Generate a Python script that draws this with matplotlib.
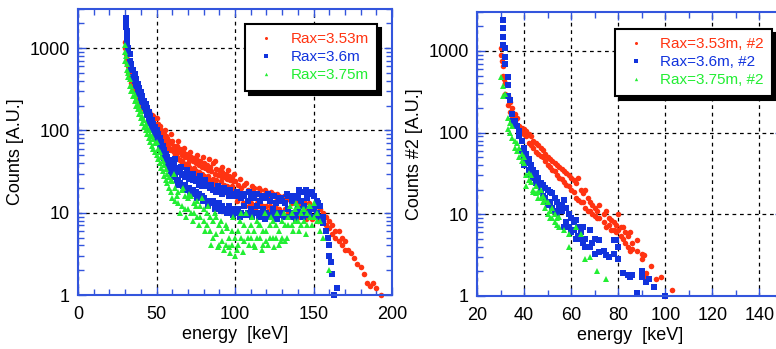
import numpy as np
import matplotlib
matplotlib.use("Agg")
import matplotlib.pyplot as plt
from matplotlib.ticker import FixedLocator, FixedFormatter, MultipleLocator, LogLocator, NullFormatter

plt.rcParams['font.family'] = ['Liberation Sans', 'DejaVu Sans']

# ---------------- Left panel data ----------------
red1_x = [30, 30, 30.5, 31, 31.5, 32, 32, 33, 33, 34, 34, 35, 35, 36, 36, 37, 37, 38, 38, 39, 39,
          40, 40, 41, 41, 42, 42, 43, 43, 44, 44, 45, 45, 46, 46, 47, 47, 48, 48, 49, 49,
          50, 50, 51, 51, 52, 52, 53, 53, 54, 54, 55, 55, 56, 56, 57, 57, 58, 58, 59, 59,
          60, 60, 61, 61, 62, 62, 63, 63, 64, 64, 65, 65, 66, 66, 67, 67, 68, 68, 69, 69,
          70, 70, 71, 71, 72, 72, 73, 73, 74, 74, 75, 75, 76, 76, 77, 77, 78, 78, 79, 79,
          80, 80, 81, 81, 82, 82, 83, 83, 84, 84, 85, 85, 86, 86, 87, 87, 88, 88, 89, 89,
          90, 90, 91, 91, 92, 92, 93, 93, 94, 94, 95, 95, 96, 96, 97, 97, 98, 98, 99, 99,
          100, 100, 102, 102, 104, 104, 106, 106, 108, 108, 110, 110, 112, 112, 114, 114,
          116, 116, 118, 118, 120, 120, 122, 122, 124, 124, 126, 126, 128, 128, 130, 130,
          132, 132, 134, 134, 136, 136, 138, 138, 140, 140, 142, 142, 144, 144, 146, 146,
          148, 148, 150, 150, 152, 152, 154, 154, 156, 156, 158, 158, 160, 160, 162, 162,
          164, 164, 166, 166, 168, 168, 170, 170, 172, 174, 176, 178, 180, 182, 184, 186,
          188, 190, 193,
          55.5, 57.5, 59.5, 61.5, 63.5, 65.5, 67.5, 69.5, 71.5, 73.5, 75.5, 77.5, 79.5, 81.5,
          83.5, 85.5, 87.5, 89.5, 91.5, 93.5, 95.5, 97.5, 99.5, 101, 103, 105, 107, 109, 111,
          113, 115, 117, 119, 121, 123, 125, 127, 129, 131, 133, 135, 137, 139, 141, 143, 145,
          147, 149, 151, 153]
red1_y = [1200, 1000, 850, 750, 650, 600, 520, 480, 430, 420, 380, 380, 330, 330, 300, 300, 270, 280, 250, 260, 230,
          250, 220, 230, 200, 210, 185, 200, 175, 185, 160, 175, 150, 160, 140, 155, 135, 150, 125, 140, 120,
          140, 115, 120, 100, 115, 95, 100, 85, 95, 80, 90, 75, 85, 70, 80, 65, 75, 62, 70, 58,
          75, 60, 65, 55, 60, 50, 65, 48, 55, 45, 60, 44, 50, 42, 55, 40, 48, 38, 52, 36,
          50, 40, 45, 36, 48, 34, 42, 33, 46, 35, 40, 32, 44, 30, 38, 31, 42, 29, 36, 30,
          40, 28, 35, 27, 38, 26, 33, 28, 36, 25, 32, 24, 40, 26, 30, 23, 34, 25, 29, 22,
          33, 21, 28, 24, 31, 20, 27, 22, 30, 19, 26, 21, 28, 20, 25, 18, 27, 21, 24, 19,
          24, 16, 22, 15, 20, 15, 22, 13, 19, 14, 18, 13, 20, 12, 17, 13,
          19, 12, 16, 12, 18, 12, 15, 12, 17, 11, 14, 11.5, 16, 11, 15, 10,
          14, 11, 14.5, 10, 13, 9.5, 14, 10, 13, 9.5, 12, 10, 14, 9, 11, 9.5,
          12, 9, 11, 9, 12, 9, 11, 9, 10, 8, 9, 7, 8, 6.5, 7, 5.5,
          6, 5, 6, 4.5, 5, 4, 4.5, 3.5, 3.5, 3.2, 2.8, 2.4, 2.2, 1.8, 1.4, 1.3,
          1.4, 1.2, 1.0,
          100, 58, 90, 48, 75, 38, 62, 32, 55, 30, 50, 26, 48, 24,
          45, 21, 42, 20, 36, 18, 33, 17, 30, 14, 26, 13, 23, 12, 21,
          11, 20, 10.5, 19, 10.5, 18, 10, 17, 10, 16, 9.5, 15, 9, 15, 9, 14, 8.5,
          13, 8.5, 12, 8]

blue1_x = [30.5, 30.5, 30.5, 31, 31, 31.5, 31.5, 32, 32, 33, 33, 34, 34, 35, 35, 36, 36, 37, 37,
           38, 38, 39, 39, 40, 40, 41, 41, 42, 42, 43, 43, 44, 44, 45, 45, 46, 46, 47, 47,
           48, 48, 49, 49, 50, 50, 51, 51, 52, 52, 53, 53, 54, 54, 55, 55, 56, 56, 57, 57,
           58, 58, 59, 59, 60, 60, 61, 61, 62, 62, 63, 63, 64, 64, 65, 65, 66, 66, 67, 67,
           68, 68, 69, 69, 70, 70, 71, 71, 72, 72, 73, 73, 74, 74, 75, 75, 76, 76, 77, 77,
           78, 78, 79, 79, 80, 80, 82, 82, 84, 84, 86, 86, 88, 88, 90, 90, 92, 92, 94, 94,
           96, 96, 98, 98, 100, 100, 102, 102, 104, 104, 106, 106, 108, 108, 110, 110,
           112, 112, 114, 114, 116, 116, 118, 118, 120, 120, 122, 122, 124, 124, 126, 126,
           128, 128, 130, 130, 132, 132, 134, 134, 136, 136, 138, 138, 140, 140, 142, 142,
           144, 144, 146, 146, 148, 148, 150, 150, 152, 152, 154, 154, 156, 156, 158, 159,
           160, 160, 161, 162, 163, 165,
           61.5, 63.5, 65.5, 67.5, 69.5, 71.5, 73.5, 75.5, 77.5, 79.5, 81, 83, 85, 87, 89, 91,
           93, 95, 97, 99, 101, 103, 105, 107, 109, 111, 113, 115, 117, 119, 121, 123, 125,
           127, 129, 131, 133, 135, 137, 139, 141, 143, 145, 147, 149, 151, 153]
blue1_y = [2300, 2000, 1800, 1600, 1400, 1200, 1100, 1000, 900, 850, 700, 650, 550, 550, 450, 480, 400, 420, 350,
           370, 310, 330, 280, 290, 240, 260, 220, 230, 195, 210, 175, 190, 155, 170, 135, 150, 125, 135, 110,
           120, 100, 110, 90, 100, 80, 90, 72, 80, 65, 72, 58, 65, 52, 58, 46, 52, 42, 48, 38,
           44, 35, 40, 32, 42, 30, 38, 28, 35, 27, 33, 25, 31, 24, 32, 23, 29, 22, 30, 21,
           27, 22, 29, 20, 28, 19, 26, 20, 27, 18, 25, 19, 26, 17, 24, 18, 25, 16, 22, 17,
           24, 15, 21, 16, 23, 15, 21, 14, 20, 13, 19, 14, 18, 12, 19, 13, 17, 12, 18, 11,
           16, 12, 17, 11, 16, 10, 17, 11, 15, 10, 16, 12, 14, 10, 16, 11,
           15, 10, 17, 12, 14, 10, 16, 11, 15, 10, 14, 9.5, 16, 11, 13, 10,
           15, 9.5, 14, 10, 13, 9, 16, 11, 14, 10, 15, 9.5, 16, 11, 14, 10,
           18, 12, 15, 10, 17, 11, 16, 11, 14, 10, 12, 9, 9, 7.5, 6, 5,
           4, 3, 2.5, 1.8, 1.0, 1.2,
           45, 22, 36, 19, 33, 17, 30, 15, 28, 14, 25, 12, 22, 11, 21, 10.5,
           20, 10, 19, 9.5, 18, 9, 17, 9.5, 18, 9, 17, 9, 16, 8.5, 17, 9, 16,
           8.5, 15, 9, 17, 9, 16, 8.5, 19, 9, 19, 9.5, 18, 9, 13]

green1_x = [30, 30, 30, 30.5, 31, 31, 32, 32, 33, 33, 34, 34, 35, 35, 36, 36, 37, 37, 38, 38, 39, 39,
            40, 40, 41, 41, 42, 42, 43, 43, 44, 44, 45, 45, 46, 46, 47, 47, 48, 48, 49, 49,
            50, 50, 51, 51, 52, 52, 53, 53, 54, 54, 55, 55, 56, 56, 57, 57, 58, 58, 59, 59,
            60, 60, 62, 62, 64, 64, 66, 66, 68, 68, 70, 70, 72, 72, 74, 74, 76, 76, 78, 78,
            80, 80, 82, 82, 84, 84, 86, 86, 88, 88, 90, 90, 92, 92, 94, 94, 96, 96, 98, 98,
            100, 100, 102, 102, 104, 104, 106, 106, 108, 108, 110, 110, 112, 112, 114, 114,
            116, 116, 118, 118, 120, 120, 122, 122, 124, 124, 126, 126, 128, 128, 130, 130,
            132, 132, 134, 134, 136, 136, 138, 138, 140, 140, 142, 142, 144, 144, 146, 146,
            148, 148, 150, 150, 152, 152, 154, 154, 156, 160,
            61, 63, 65, 67, 69, 71, 73, 75, 77, 79, 81, 83, 85, 87, 89, 91, 93, 95, 97, 99,
            101, 103, 105, 107, 109, 111, 113, 115, 117, 119, 121, 123, 125, 127, 129, 131,
            133, 135, 137, 139, 141, 143, 145, 147, 149]
green1_y = [1100, 900, 700, 800, 650, 550, 500, 450, 420, 350, 350, 300, 300, 260, 270, 230, 240, 200, 210, 180, 190, 160,
            175, 140, 150, 125, 135, 110, 120, 100, 110, 90, 100, 80, 90, 72, 85, 65, 78, 60, 70, 55,
            72, 50, 60, 45, 55, 40, 48, 35, 42, 32, 38, 28, 34, 25, 30, 23, 27, 20, 25, 18,
            24, 15, 20, 14, 18, 13, 19, 12, 16, 11, 15, 11, 16, 10, 13, 10, 14, 9, 12, 9,
            11, 8, 10, 7, 9, 6, 8, 5, 9, 5.5, 7, 4, 6, 4.5, 7, 4, 5, 3.8, 6, 4,
            5, 3, 6, 4, 10, 5, 7, 4.5, 6, 5, 7, 5, 6, 4, 8, 5,
            7, 5, 6, 4, 6, 4.5, 7, 5, 8, 5, 7, 5, 6, 4, 8, 5,
            7, 4.5, 9, 7, 10, 7, 11, 8, 12, 8, 10, 7, 11, 8, 10, 7,
            12, 9, 13, 9, 10, 8, 8, 6, 5, 2,
            30, 16, 10, 20, 9, 17, 8, 12, 7, 15, 6, 12, 4, 10, 3.8, 8, 3.5, 6.5, 3.2, 9,
            3.5, 8, 3.3, 10, 4, 9, 3.8, 7, 3.5, 10, 4, 9, 3.8, 10, 4.5, 10,
            5, 12, 6, 13, 6, 11, 5.5, 12, 7]

# ---------------- Right panel data ----------------
red2_x = [30, 30, 30.5, 31, 31, 31.5, 32, 32, 33, 33, 34, 34, 35, 35, 36, 36, 37, 37, 38, 38, 39, 39,
          40, 40, 41, 41, 42, 42, 43, 43, 44, 44, 45, 45, 46, 46, 47, 47, 48, 48, 49, 49,
          50, 50, 51, 51, 52, 52, 53, 53, 54, 54, 55, 55, 56, 56, 57, 57, 58, 58, 59, 59,
          60, 60, 61, 61, 62, 62, 63, 63, 64, 64, 65, 65, 66, 66, 67, 67, 68, 68, 69, 69,
          70, 70, 71, 71, 72, 72, 74, 74, 75, 75, 76, 76, 77, 77, 78, 78, 79, 79,
          80, 80, 81, 81, 82, 82, 83, 83, 84, 84, 85, 85, 86, 86, 88, 88, 90, 90, 91,
          92, 92, 94, 96, 98, 100, 103]
red2_y = [1100, 900, 750, 650, 500, 450, 400, 300, 280, 220, 240, 180, 200, 160, 170, 140, 150, 125, 120, 110, 115, 100,
          110, 95, 105, 90, 95, 75, 90, 70, 80, 65, 75, 58, 70, 55, 65, 52, 62, 50, 55, 45,
          50, 40, 48, 38, 45, 35, 42, 34, 40, 30, 38, 28, 36, 27, 34, 25, 32, 23, 30, 22,
          28, 20, 26, 19, 24, 16, 28, 15, 20, 14, 18, 14, 20, 12, 16, 11, 14, 11, 13, 10,
          12, 9.5, 11, 9, 13, 9, 10, 8, 11, 7, 9, 7.5, 8.5, 6.5, 8, 6.5, 7.5, 6,
          10, 6.5, 7, 5.5, 7, 5, 6, 4.5, 5.5, 4, 6, 3.6, 4.5, 3.8, 4.8, 3.6, 3.3, 2.8, 3.2,
          1.9, 1.7, 2.3, 1.6, 1.7, 1.0, 1.2]

blue2_x = [31, 31, 31, 31, 32, 32, 32, 33, 33, 33, 34, 35, 35, 36, 36, 37, 38, 38, 39, 39,
           40, 40, 40, 41, 41, 42, 42, 43, 43, 44, 44, 45, 45, 46, 46, 47, 47, 48, 48, 49, 49,
           50, 50, 51, 51, 52, 52, 53, 53, 54, 54, 55, 55, 56, 56, 57, 57, 58, 58, 59, 59,
           60, 60, 61, 61, 62, 62, 63, 63, 64, 64, 65, 65, 66, 66, 68, 68, 69, 70, 70,
           72, 72, 74, 75, 76, 78, 78, 79, 80, 80, 82, 84, 85, 86, 88, 90, 90, 92, 93, 95, 100]
blue2_y = [2400, 1900, 1500, 1200, 1100, 850, 700, 480, 380, 280, 250, 170, 140, 140, 120, 120, 105, 90, 80, 60,
           65, 50, 40, 55, 42, 48, 35, 40, 30, 35, 28, 32, 24, 28, 22, 24, 19, 23, 17, 21, 16,
           20, 13, 19, 14, 18, 12, 16, 11, 14, 10.5, 12, 11, 13, 11, 15, 7, 12, 8, 10, 7,
           9, 6, 8, 6.5, 8.5, 5, 7, 5.5, 6, 5, 7, 4.5, 5, 4, 6.5, 4, 4.5, 5, 3.3,
           4.9, 3.5, 3.6, 3.2, 3.0, 4.9, 3.3, 4.9, 4, 2.8, 1.9, 1.8, 1.7, 1.8, 1.1, 2.0, 1.7, 1.5, 1.6, 1.3, 1.0]

green2_x = [30, 31, 31, 32, 33, 33, 34, 34, 35, 35, 36, 36, 37, 37, 38, 38, 39, 39, 40, 40,
            41, 41, 42, 42, 43, 43, 44, 44, 45, 45, 46, 46, 47, 47, 48, 48, 49, 49, 50, 50,
            51, 51, 52, 52, 53, 53, 54, 54, 55, 55, 57, 59, 59, 62, 64, 66, 68, 71, 75]
green2_y = [480, 370, 280, 300, 150, 110, 130, 100, 120, 85, 80, 65, 75, 60, 65, 50, 55, 45, 50, 42,
            22, 30, 32, 26, 30, 25, 20, 19, 22, 18, 19, 16, 20, 16, 17, 14, 15, 12, 14, 10,
            11, 9, 12, 9, 10, 8, 9, 7.5, 9.3, 7, 6.4, 5.8, 4, 7, 5.8, 2.8, 3.0, 2.0, 1.6]

labels1 = ["Rax=3.53m", "Rax=3.6m", "Rax=3.75m"]
labels2 = ["Rax=3.53m, #2", "Rax=3.6m, #2", "Rax=3.75m, #2"]
ytick_vals = [1, 10, 100, 1000]
ytick_labels = ["1", "10", "100", "1000"]

RED = "#ff3311"
BLUE = "#1133dd"
GREEN = "#22ee33"
SPINE = "#3355dd"

fig = plt.figure(figsize=(7.76, 3.49), dpi=100)
ax1 = fig.add_axes([78/776, 54/349, 314/776, 286/349])
ax2 = fig.add_axes([477/776, 53/349, 306/776, 284/349])


def style(ax, xmin, xlim, ylabel, xticks):
    ax.set_yscale('log')
    ax.set_xlim(*xlim)
    ax.set_ylim(1, 3000)
    ax.xaxis.set_major_locator(FixedLocator(xticks))
    ax.xaxis.set_minor_locator(MultipleLocator(xmin))
    ax.yaxis.set_major_locator(FixedLocator(ytick_vals))
    ax.yaxis.set_major_formatter(FixedFormatter(ytick_labels))
    ax.yaxis.set_minor_locator(LogLocator(base=10, subs=np.arange(2, 10)))
    ax.yaxis.set_minor_formatter(NullFormatter())
    ax.tick_params(which='both', direction='in', top=True, right=True, color=SPINE,
                   labelsize=13, labelcolor='black')
    ax.tick_params(which='major', length=6, width=1)
    ax.tick_params(which='minor', length=4, width=1)
    ax.tick_params(axis='x', which='major', pad=8)
    ax.tick_params(axis='y', which='major', pad=6)
    for s in ax.spines.values():
        s.set_color(SPINE)
        s.set_linewidth(1.5)
    ax.grid(True, which='major', color='black', linestyle=(0, (3, 3)), linewidth=0.9)
    ax.set_xlabel("energy  [keV]", fontsize=13, labelpad=2)
    ax.set_ylabel(ylabel, fontsize=13, labelpad=4)


style(ax1, 10, (0, 200), "Counts [A.U.]", [0, 50, 100, 150, 200])
style(ax2, 10, (20, 150), "Counts #2 [A.U.]", [20, 40, 60, 80, 100, 120, 140])

ms_r = 4.0
ms_b = 4.4
ms_g = 4.4
h1 = []
h1.append(ax1.plot(red1_x, red1_y, 'o', color=RED, ms=ms_r, mew=0, label=labels1[0], clip_on=False)[0])
h1.append(ax1.plot(blue1_x, blue1_y, 's', color=BLUE, ms=ms_b, mew=0, label=labels1[1], clip_on=False)[0])
h1.append(ax1.plot(green1_x, green1_y, '^', color=GREEN, ms=ms_g, mew=0, label=labels1[2], clip_on=False)[0])

h2 = []
h2.append(ax2.plot(red2_x, red2_y, 'o', color=RED, ms=ms_r, mew=0, label=labels2[0], clip_on=False)[0])
h2.append(ax2.plot(blue2_x, blue2_y, 's', color=BLUE, ms=ms_b, mew=0, label=labels2[1], clip_on=False)[0])
h2.append(ax2.plot(green2_x, green2_y, '^', color=GREEN, ms=ms_g, mew=0, label=labels2[2], clip_on=False)[0])


def legend(ax, handles, anchor):
    leg = ax.legend(handles=handles, loc='upper right', bbox_to_anchor=anchor,
                    borderaxespad=0, fancybox=False, framealpha=1, edgecolor='black',
                    fontsize=11, markerscale=0.55, handlelength=1.6, handletextpad=0.8,
                    labelspacing=0.26, borderpad=0.55,
                    shadow={'color': 'black', 'alpha': 1, 'ox': 3, 'oy': -3})
    leg.get_frame().set_linewidth(1.5)
    for t, c in zip(leg.get_texts(), [RED, BLUE, GREEN]):
        t.set_color(c)
    return leg


legend(ax1, h1, (0.952, 0.948))
legend(ax2, h2, (0.964, 0.940))

fig.savefig("out.png", dpi=100)
